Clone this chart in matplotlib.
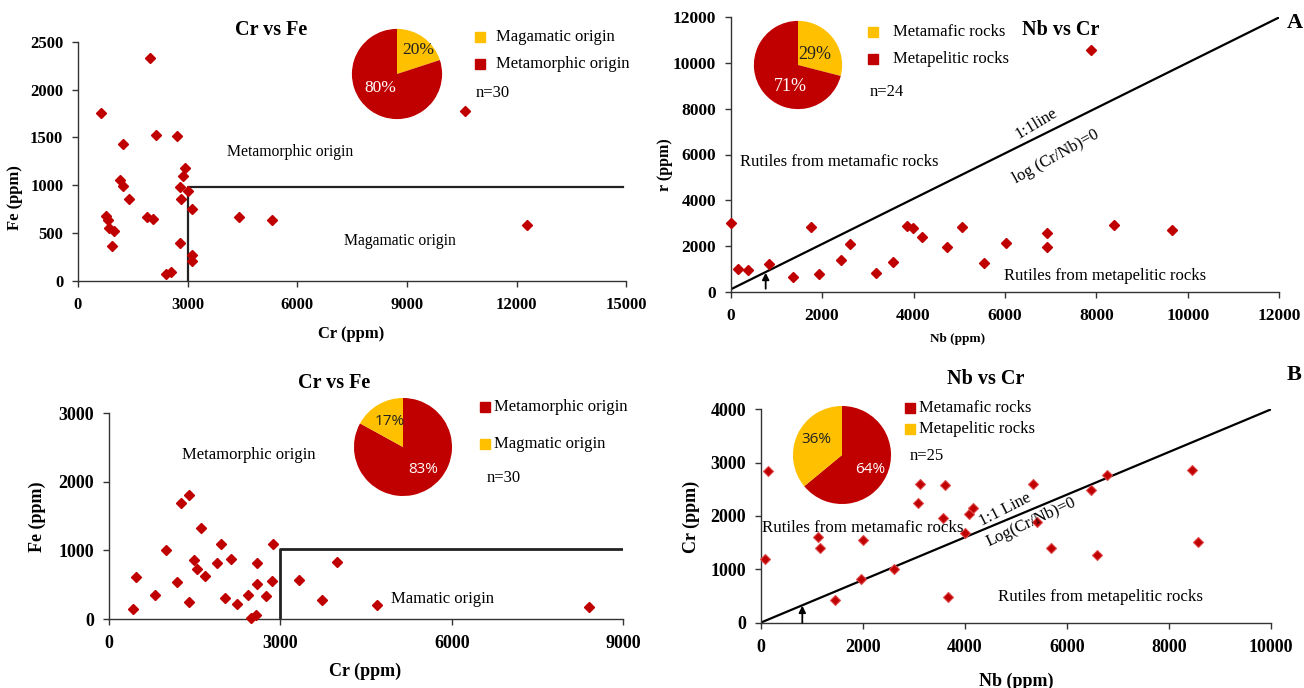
# -*- coding: utf-8 -*-

'''
Cr vs Fe e Nb vs Cr em rutilos
'''

import matplotlib
matplotlib.use('Agg')
import matplotlib.pyplot as plt
from matplotlib.lines import Line2D

LARG, ALT = 1304, 688
VERMELHO = '#C00000'
AMARELO = '#FFC000'

# painel A, esquerda: Cr vs Fe
CR_A = [630, 1960, 2130, 2700, 1240, 1160, 1240, 1390, 2930, 2870,
        2800, 3000, 2820, 3120, 780, 820, 1900, 2060, 850, 1000,
        930, 2790, 3110, 3120, 2400, 2560, 4420, 5320, 10580, 12280]
FE_A = [1750, 2330, 1530, 1510, 1430, 1055, 990, 860, 1180, 1100,
        980, 940, 860, 750, 680, 640, 665, 650, 550, 520,
        370, 400, 270, 210, 75, 90, 665, 635, 1780, 590]
LIMITE_A_X = [3000, 3000, 14900]
LIMITE_A_Y = [0, 980, 980]
PIZZA_A = [20, 80]

# painel A, direita: Nb vs Cr
NB_A = [0, 160, 380, 850, 1370, 1750, 1930, 2410, 2620, 3170, 3555, 3850,
        3990, 4180, 4740, 5050, 5540, 6020, 6930, 6930, 7880, 8390, 9660]
CR_NB_A = [3000, 1000, 930, 1200, 630, 2810, 775, 1390, 2070, 800, 1280, 2880,
           2790, 2380, 1940, 2830, 1240, 2130, 2550, 1950, 10570, 2930, 2700]
LINHA_A_X = [0, 12000]
LINHA_A_Y = [100, 12000]
PIZZA_A2 = [29, 71]

# painel B, esquerda: Cr vs Fe
CR_B = [430, 480, 810, 1000, 1190, 1270, 1410, 1410, 1500, 1545,
        1620, 1690, 1900, 1960, 2040, 2140, 2240, 2430, 2495, 2580,
        2600, 2600, 2760, 2850, 2880, 3330, 3740, 4000, 4700, 8400]
FE_B = [140, 610, 345, 1000, 540, 1690, 1810, 250, 860, 725,
        1320, 630, 820, 1090, 310, 880, 215, 345, 20, 60,
        820, 505, 335, 560, 1090, 565, 270, 825, 205, 175]
LIMITE_B_X = [3000, 3000, 9000]
LIMITE_B_Y = [0, 1025, 1025]
PIZZA_B = [83, 17]

# painel B, direita: Nb vs Cr
NB_B = [90, 150, 1130, 1165, 1450, 1970, 2000, 2615, 3090, 3130, 3565, 3610,
        3680, 4000, 4080, 4160, 5335, 5405, 5695, 6480, 6590, 6790, 8460, 8560]
CR_NB_B = [1190, 2840, 1610, 1405, 425, 810, 1545, 1000, 2240, 2600, 1955, 2580,
           485, 1690, 2040, 2145, 2600, 1890, 1405, 2480, 1270, 2770, 2860, 1510]
LINHA_B_X = [0, 10000]
LINHA_B_Y = [0, 4000]
PIZZA_B2 = [64, 36]


def px(x, y):
    '''Pixel -> fracao da figura'''
    return x / LARG, 1 - y / ALT


def eixo(fig, caixa, xlim, ylim, passo_x, passo_y, tam=12.5):
    '''Cria eixo a partir da caixa em pixels (x0, topo, x1, base)'''
    x0, y0, x1, y1 = caixa
    ax = fig.add_axes([x0 / LARG, 1 - y1 / ALT, (x1 - x0) / LARG, (y1 - y0) / ALT])
    ax.set_xlim(xlim)
    ax.set_ylim(ylim)
    ax.set_xticks(range(xlim[0], xlim[1] + 1, passo_x))
    ax.set_yticks(range(ylim[0], ylim[1] + 1, passo_y))
    for lado in ['top', 'right']:
        ax.spines[lado].set_visible(False)
    for lado in ['left', 'bottom']:
        ax.spines[lado].set_color('#333333')
        ax.spines[lado].set_linewidth(1.0)
    ax.tick_params(direction='out', length=4, width=1.0, color='#333333',
                   labelsize=tam)
    ax.tick_params(axis='x', pad=7.5)
    ax.tick_params(axis='y', pad=6.5)
    plt.setp(ax.get_xticklabels() + ax.get_yticklabels(), fontweight='bold')
    ax.patch.set_alpha(0)
    return ax


def pizza(fig, centro, raio, valores, cores, posicoes, cores_txt,
          familia='Liberation Serif', tam=12.5):
    '''Pizza pequena com rotulos de porcentagem'''
    cx, cy = centro
    ax = fig.add_axes([(cx - raio) / LARG, 1 - (cy + raio) / ALT,
                       2 * raio / LARG, 2 * raio / ALT])
    ax.pie(valores, colors=cores, startangle=90, counterclock=False,
           wedgeprops=dict(linewidth=0))
    ax.set_xlim(-1.02, 1.02)
    ax.set_ylim(-1.02, 1.02)
    for val, (x, y), cor in zip(valores, posicoes, cores_txt):
        ax.text(x, y, f'{val}%', ha='center', va='center', color=cor,
                fontsize=tam, family=familia)
    return ax


def legenda(fig, itens, x_quad, x_txt, linhas, n_txt, n_pos, ms=7):
    '''Legenda feita a mao com quadrados'''
    for (rotulo, cor), y in zip(itens, linhas):
        fx, fy = px(x_quad, y)
        fig.add_artist(Line2D([fx], [fy], marker='s', ms=ms, color=cor,
                              ls='', transform=fig.transFigure))
        tx, ty = px(x_txt, y)
        fig.text(tx, ty, rotulo, va='center', fontsize=12)
    nx, ny = px(*n_pos)
    fig.text(nx, ny, n_txt, va='center', fontsize=12)


def painel_a(fig):
    '''Linha de cima'''
    ax1 = eixo(fig, (77.9, 41.7, 626.3, 281), (0, 15000), (0, 2500), 3000, 500, 12)
    ax1.plot(CR_A, FE_A, 'D', ms=5.6, color=VERMELHO, clip_on=False, zorder=3)
    ax1.plot(LIMITE_A_X, LIMITE_A_Y, color='#222222', lw=1.6, zorder=2)
    ax1.text(5296, 2622, 'Cr vs Fe', ha='center', va='center',
             fontsize=14.5, fontweight='bold')
    ax1.text(5813, 1351, 'Metamorphic origin', ha='center', va='center', fontsize=11.3)
    ax1.text(8806, 418, 'Magamatic origin', ha='center', va='center', fontsize=11.3)
    ax1.set_xlabel('Cr (ppm)', fontsize=12, fontweight='bold')
    ax1.set_ylabel('Fe (ppm)', fontsize=12, fontweight='bold')
    ax1.xaxis.set_label_coords(0.498, -0.188)
    ax1.yaxis.set_label_coords(-0.100, 0.35)
    pizza(fig, (397, 74), 46, PIZZA_A, [AMARELO, VERMELHO],
          [(0.47, 0.54), (-0.38, -0.31)], ['#222222', 'white'])
    legenda(fig, [('Magamatic origin', AMARELO), ('Metamorphic origin', VERMELHO)],
            480, 496, [37, 64], 'n=30', (476, 93), ms=7.5)

    ax2 = eixo(fig, (730.6, 17.3, 1279.3, 291.7), (0, 12000), (0, 12000), 2000, 2000)
    ax2.plot(LINHA_A_X, LINHA_A_Y, color='black', lw=1.6, zorder=2)
    ax2.plot(NB_A, CR_NB_A, 'D', ms=5.6, color=VERMELHO, clip_on=False, zorder=3)
    ax2.annotate('', xy=(767, 830), xytext=(767, 130),
                 arrowprops=dict(arrowstyle='-|>', color='black', lw=1.3,
                                 mutation_scale=10, shrinkA=0, shrinkB=0))
    ax2.text(7215, 11445, 'Nb vs Cr', ha='center', va='center',
             fontsize=14.5, fontweight='bold')
    ax2.text(12336, 11736, 'A', ha='center', va='center',
             fontsize=16, fontweight='bold')
    ax2.text(207, 5657, 'Rutiles from metamafic rocks', va='center', fontsize=12)
    ax2.text(8185, 685, 'Rutiles from metapelitic rocks', ha='center',
             va='center', fontsize=12)
    ax2.text(6684, 7364, '1:1line', ha='center', va='center', fontsize=12,
             rotation=31, rotation_mode='anchor')
    ax2.text(7124, 5904, 'log (Cr/Nb)=0', ha='center', va='center', fontsize=12,
             rotation=29, rotation_mode='anchor')
    ax2.set_xlabel('Nb (ppm)', fontsize=9.5, fontweight='bold')
    ax2.set_ylabel('r (ppm)', fontsize=11.5, fontweight='bold')
    ax2.xaxis.set_label_coords(0.414, -0.150)
    ax2.yaxis.set_label_coords(-0.105, 0.464)
    pizza(fig, (798, 65), 45, PIZZA_A2, [AMARELO, VERMELHO],
          [(0.38, 0.24), (-0.18, -0.48)], ['#222222', 'white'], tam=13)
    legenda(fig, [('Metamafic rocks', AMARELO), ('Metapelitic rocks', VERMELHO)],
            873, 893, [32, 59], 'n=24', (870, 92), ms=7.5)


def painel_b(fig):
    '''Linha de baixo'''
    ax3 = eixo(fig, (108.6, 413.3, 623.3, 619), (0, 9000), (0, 3000), 3000, 1000, 13)
    ax3.plot(CR_B, FE_B, 'D', ms=5.6, color=VERMELHO, clip_on=False, zorder=3)
    ax3.plot(LIMITE_B_X, LIMITE_B_Y, color='#222222', lw=2.0, zorder=2)
    ax3.text(3937, 3447, 'Cr vs Fe', ha='center', va='center',
             fontsize=14.5, fontweight='bold')
    ax3.text(2443, 2392, 'Metamorphic origin', ha='center', va='center', fontsize=12)
    ax3.text(4945, 292, 'Mamatic origin', va='center', fontsize=12)
    ax3.set_xlabel('Cr (ppm)', fontsize=13, fontweight='bold')
    ax3.set_ylabel('Fe (ppm)', fontsize=13, fontweight='bold')
    ax3.xaxis.set_label_coords(0.498, -0.214)
    ax3.yaxis.set_label_coords(-0.122, 0.495)
    pizza(fig, (403, 447), 50, PIZZA_B, [VERMELHO, AMARELO],
          [(0.41, -0.46), (-0.27, 0.53)], ['white', '#222222'],
          familia='Open Sans', tam=11)
    legenda(fig, [('Metamorphic origin', VERMELHO), ('Magmatic origin', AMARELO)],
            485, 494, [407, 444], 'n=30', (487, 478), ms=6.5)

    ax4 = eixo(fig, (760.6, 409.3, 1271.1, 622.7), (0, 10000), (0, 4000), 2000, 1000, 13)
    ax4.plot(LINHA_B_X, LINHA_B_Y, color='black', lw=1.6, zorder=2)
    ax4.plot(NB_B, CR_NB_B, 'D', ms=5.4, color=VERMELHO, mec='#E04848',
             mew=0.8, clip_on=False, zorder=3)
    ax4.annotate('', xy=(817, 320), xytext=(817, 0),
                 arrowprops=dict(arrowstyle='-|>', color='black', lw=1.3,
                                 mutation_scale=10, shrinkA=0, shrinkB=0))
    ax4.text(4409, 4562, 'Nb vs Cr', ha='center', va='center',
             fontsize=14.5, fontweight='bold')
    ax4.text(10458, 4644, 'B', ha='center', va='center',
             fontsize=16, fontweight='bold')
    ax4.text(24, 1769, 'Rutiles from metamafic rocks', va='center', fontsize=12.2)
    ax4.text(6661, 487, 'Rutiles from metapelitic rocks', ha='center',
             va='center', fontsize=12.2)
    ax4.text(4788, 2109, '1:1 Line', ha='center', va='center', fontsize=12,
             rotation=27, rotation_mode='anchor')
    ax4.text(5294, 1890, 'Log(Cr/Nb)=0', ha='center', va='center', fontsize=12,
             rotation=25, rotation_mode='anchor')
    ax4.set_xlabel('Nb (ppm)', fontsize=13, fontweight='bold')
    ax4.set_ylabel('Cr (ppm)', fontsize=13, fontweight='bold')
    ax4.xaxis.set_label_coords(0.501, -0.236)
    ax4.yaxis.set_label_coords(-0.119, 0.495)
    pizza(fig, (842, 455), 50, PIZZA_B2, [VERMELHO, AMARELO],
          [(0.57, -0.29), (-0.52, 0.31)], ['white', '#222222'],
          familia='Open Sans', tam=11)
    legenda(fig, [('Metamafic rocks', VERMELHO), ('Metapelitic rocks', AMARELO)],
            910, 919, [408, 429], 'n=25', (910, 456), ms=6.5)


def main():
    '''Funcao principal'''
    plt.rcParams['font.family'] = ['Liberation Serif', 'DejaVu Serif']
    fig = plt.figure(figsize=(LARG / 100, ALT / 100), dpi=100)
    painel_a(fig)
    painel_b(fig)
    fig.savefig('out.png', dpi=100)


if __name__ == '__main__':
    main()
